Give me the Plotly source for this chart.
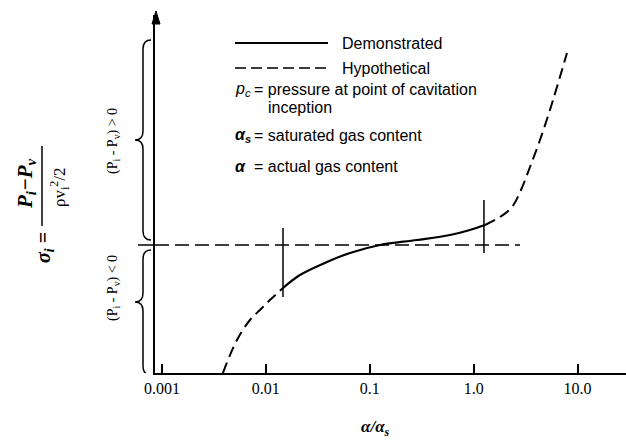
import plotly.graph_objects as go

# ---- data ----
lower_dash_x = [0.00386, 0.00527, 0.00703, 0.00877, 0.01094, 0.01462]
lower_dash_y = [-1.28, -0.95, -0.75, -0.65, -0.55, -0.43]
solid_x = [0.01462, 0.02128, 0.03873, 0.06442, 0.1253, 0.2844, 0.5916, 0.9204, 1.285]
solid_y = [-0.43, -0.30, -0.17, -0.08, 0.00, 0.05, 0.10, 0.15, 0.20]
upper_dash_x = [1.285, 1.791, 2.339, 2.851, 3.483, 4.345, 5.420, 7.907]
upper_dash_y = [0.20, 0.28, 0.38, 0.55, 0.78, 1.05, 1.35, 1.92]
zero_line_x = [0.000857, 2.79]
zero_line_y = [0.0, 0.0]
cross1_x = [0.01462, 0.01462]
cross1_y = [0.17, -0.52]
cross2_x = [1.256, 1.256]
cross2_y = [0.45, -0.08]
tick_vals = [0.001, 0.01, 0.1, 1, 10]
tick_text = ["0.001", "0.01", "0.1", "1.0", "10.0"]

# ---- layout geometry helpers (pixel -> paper) ----
L, R, T, B = 155, 0, 15, 71
W, H = 626, 444
PW, PH = W - L - R, H - T - B
def px(x):
    return (x - L) / PW
def py(y):
    return (H - B - y) / PH

SERIF = "Liberation Serif"
SANS = "Liberation Sans"

fig = go.Figure()
fig.add_trace(go.Scatter(x=lower_dash_x, y=lower_dash_y, mode="lines", line_shape="spline",
                         line=dict(color="black", width=2, dash="11px,6px"), showlegend=False))
fig.add_trace(go.Scatter(x=solid_x, y=solid_y, mode="lines", line_shape="spline",
                         line=dict(color="black", width=2.2), showlegend=False))
fig.add_trace(go.Scatter(x=upper_dash_x, y=upper_dash_y, mode="lines", line_shape="spline",
                         line=dict(color="black", width=2, dash="11px,6px"), showlegend=False))
fig.add_trace(go.Scatter(x=zero_line_x, y=zero_line_y, mode="lines",
                         line=dict(color="black", width=1.5, dash="14px,6px"), showlegend=False))
fig.add_trace(go.Scatter(x=cross1_x, y=cross1_y, mode="lines",
                         line=dict(color="black", width=1.5), showlegend=False))
fig.add_trace(go.Scatter(x=cross2_x, y=cross2_y, mode="lines",
                         line=dict(color="black", width=1.5), showlegend=False))

shapes = []
# short extension of zero line left of the axis
shapes.append(dict(type="line", xref="paper", yref="y", x0=px(138), x1=0, y0=0, y1=0,
                   line=dict(color="black", width=1.5)))
# arrow head on y axis
shapes.append(dict(type="path", xref="paper", yref="paper",
                   path=f"M {px(156)},{py(11)} L {px(152)},{py(24)} L {px(160)},{py(24)} Z",
                   fillcolor="black", line=dict(color="black", width=1)))

# braces
def brace(ytop, ytip, ybot, r=0.09):
    xe, xb, xt = px(151), px(143), px(135)
    return (f"M {xe},{ytop} Q {xb},{ytop} {xb},{ytop - r} L {xb},{ytip + r} "
            f"Q {xb},{ytip} {xt},{ytip} Q {xb},{ytip} {xb},{ytip - r} "
            f"L {xb},{ybot + r} Q {xb},{ybot} {xe},{ybot}")
shapes.append(dict(type="path", xref="paper", yref="y", path=brace(2.05, 1.05, 0.05),
                   line=dict(color="black", width=1.5)))
shapes.append(dict(type="path", xref="paper", yref="y", path=brace(-0.05, -0.57, -1.30),
                   line=dict(color="black", width=1.5)))

# legend lines
shapes.append(dict(type="line", xref="paper", yref="paper", x0=px(235), x1=px(328),
                   y0=py(43), y1=py(43), line=dict(color="black", width=2)))
shapes.append(dict(type="line", xref="paper", yref="paper", x0=px(235), x1=px(328),
                   y0=py(68), y1=py(68), line=dict(color="black", width=1.5, dash="11px,5px")))
# fraction bar of y label
shapes.append(dict(type="line", xref="paper", yref="paper", x0=px(42), x1=px(42),
                   y0=py(146), y1=py(226), line=dict(color="black", width=1.5)))

ann = []
def text(x, y, s, size=16, family=SANS, xanchor="left", angle=0):
    ann.append(dict(x=px(x), y=py(y), xref="paper", yref="paper", text=s, showarrow=False,
                    xanchor=xanchor, yanchor="middle", textangle=angle,
                    font=dict(family=family, size=size, color="black")))

text(340, 43, "Demonstrated")
text(340, 68, "Hypothetical")
text(233, 90, "<i>p<sub>c</sub></i>")
text(252, 90, "= pressure at point of cavitation")
text(266, 108, "inception")
text(233, 135, "<b><i>α<sub>s</sub></i></b>")
text(252, 135, "= saturated gas content")
text(233, 166, "<b><i>α</i></b>")
text(252, 166, "= actual gas content")

# brace labels
text(113, 141, "(P<sub>i</sub> - P<sub>v</sub>) > 0", size=14, family=SERIF, xanchor="center", angle=-90)
text(113, 288, "(P<sub>i</sub> - P<sub>v</sub>) < 0", size=14, family=SERIF, xanchor="center", angle=-90)

# y label
text(44, 248, "<b><i>σ<sub>i</sub></i> =</b>", size=20, family=SERIF, xanchor="center", angle=-90)
text(26, 184, "<b><i>P<sub>i</sub>−P<sub>v</sub></i></b>", size=21, family=SERIF, xanchor="center", angle=-90)
text(59, 188, "ρv<sub>i</sub><sup>2</sup>/2", size=17, family=SERIF, xanchor="center", angle=-90)

# x title
text(375, 428, "<b><i>α/α<sub>s</sub></i></b>", size=17, family=SERIF, xanchor="center")

fig.update_layout(
    width=W, height=H, margin=dict(l=L, r=R, t=T, b=B),
    paper_bgcolor="white", plot_bgcolor="white",
    shapes=shapes, annotations=ann, showlegend=False,
    xaxis=dict(type="log", range=[-3.067, 1.466], showgrid=False, zeroline=False,
               showline=True, linecolor="black", linewidth=1.5,
               tickvals=tick_vals, ticktext=tick_text, ticks="inside", ticklen=9,
               tickwidth=1.5, tickcolor="black",
               tickfont=dict(family=SERIF, size=16, color="black")),
    yaxis=dict(range=[-1.28, 2.30], showgrid=False, zeroline=False, showline=True,
               linecolor="black", linewidth=1.5, showticklabels=False, ticks=""),
)

fig.write_html("out.html")
